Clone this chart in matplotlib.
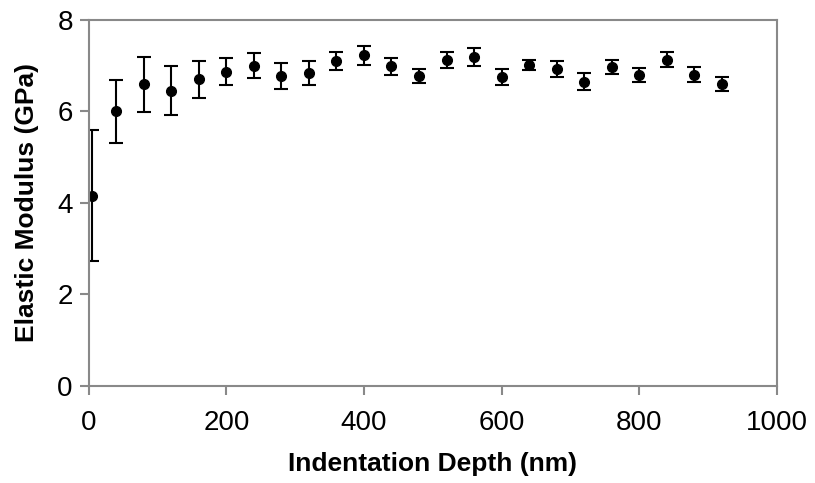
import matplotlib
matplotlib.use('Agg')
import matplotlib.pyplot as plt

plt.rcParams['font.family'] = ['Liberation Sans', 'DejaVu Sans']

depth = [5, 40, 80, 120, 160, 200, 240, 280, 320, 360, 400, 440, 480,
         520, 560, 600, 640, 680, 720, 760, 800, 840, 880, 920]
modulus = [4.16, 6.00, 6.59, 6.45, 6.70, 6.87, 7.00, 6.77, 6.84, 7.10, 7.22, 6.98, 6.77,
           7.12, 7.19, 6.75, 7.02, 6.92, 6.65, 6.97, 6.79, 7.13, 6.80, 6.60]
error = [1.44, 0.69, 0.60, 0.53, 0.40, 0.30, 0.28, 0.28, 0.26, 0.20, 0.20, 0.18, 0.16,
         0.17, 0.19, 0.17, 0.11, 0.17, 0.18, 0.15, 0.15, 0.17, 0.16, 0.16]

fig = plt.figure(figsize=(8.15, 4.83), dpi=100)
ax = fig.add_axes([0.109, 0.201, 0.844, 0.758])

ax.errorbar(depth, modulus, yerr=error, fmt='o', color='black', markersize=7,
            ecolor='black', elinewidth=1.5, capsize=5, capthick=1.5)

ax.set_xlim(0, 1000)
ax.set_ylim(0, 8)
ax.set_xticks(range(0, 1001, 200))
ax.set_yticks(range(0, 9, 2))

for s in ax.spines.values():
    s.set_color('#898989')
    s.set_linewidth(1.5)
ax.tick_params(direction='out', length=6.5, width=1.5, color='#898989',
               labelsize=20)
ax.tick_params(axis='x', pad=11)
ax.tick_params(axis='y', pad=5)

ax.set_xlabel('Indentation Depth (nm)', fontsize=19, fontweight='bold', labelpad=11)
ax.set_ylabel('Elastic Modulus (GPa)', fontsize=19, fontweight='bold', labelpad=13)

fig.savefig('out.png', dpi=100)
